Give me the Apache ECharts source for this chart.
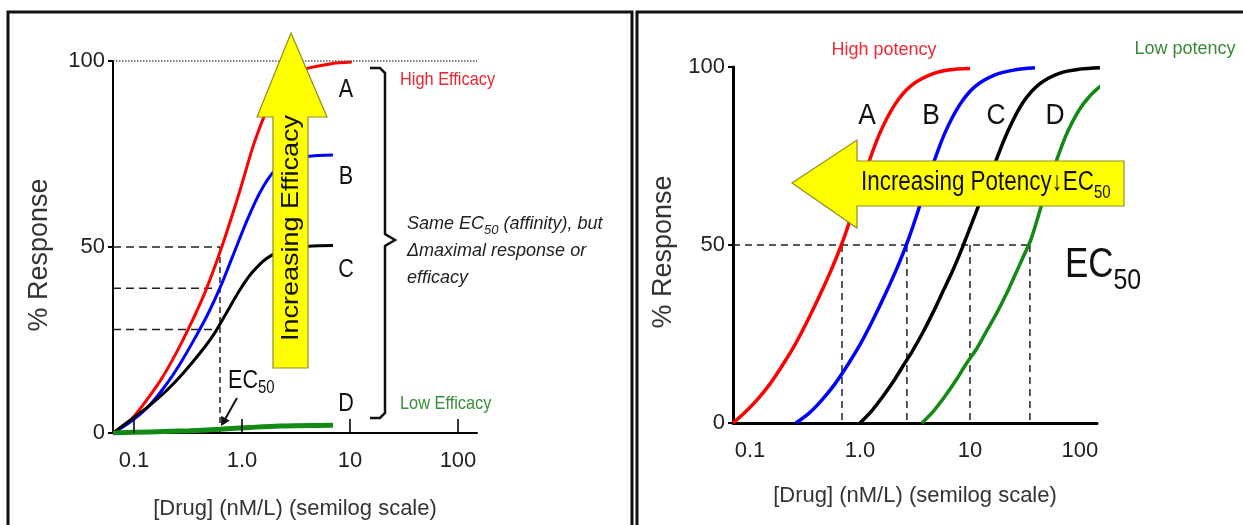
<!DOCTYPE html>
<html>
<head>
<meta charset="utf-8">
<script src="https://cdn.jsdelivr.net/npm/echarts@6/dist/echarts.min.js"></script>
<style>
html,body{margin:0;padding:0;background:#fff}
#main{width:1243px;height:525px}
</style>
</head>
<body>
<div id="main"></div>
<script>
const tickValues=[0.1,1,10,100];
const tickLabels=['0.1','1.0','10','100'];
const yTicks=[0,50,100];

// left panel: same EC50, different max response (conc nM/L vs % response)
const effA_x=[0.064,0.093,0.121,0.175,0.241,0.332,0.458,0.650,0.954,1.30,1.78,2.44,3.56,6.53,10.4];
const effA_y=[0,3.5,7.5,14,21,29,38,50,65,78,88,94,97.5,99.2,99.7];
const effB_x=[0.064,0.093,0.135,0.193,0.266,0.367,0.484,0.626,0.808,1.11,1.46,1.94,2.78,4.26,6.96];
const effB_y=[0,3,7,12.5,18.5,25.5,32,39,47,57,64.5,70,73.3,74.4,74.7];
const effC_x=[0.064,0.098,0.141,0.202,0.284,0.409,0.563,0.742,0.958,1.23,1.70,2.49,4.17,6.96];
const effC_y=[0,4,7.5,11.5,16,21.5,27,33,38.5,43,47,49.3,50.2,50.4];
const effD_x=[0.064,0.141,0.330,0.626,1.19,2.25,6.96];
const effD_y=[0,0.3,0.6,1,1.5,1.9,2.1];
const effEc50=0.626;
const effHalf=[50,38.9,27.8];
const effHalfEnd=[0.626,0.54,0.59];

// right panel: same max, shifted EC50
const potA_x=[0.0701,0.0901,0.1158,0.152,0.1954,0.2565,0.3367,0.4329,0.5564,0.6862,0.8637,1.134,1.52,2.081,2.848,4.329,6.579,10.0];
const potA_y=[0,3,6.5,11,16,22,29,36,43.5,50.5,59.5,71,81.5,89.5,94.5,97.8,99.2,99.6];
const potB_x=[0.2619,0.3511,0.4514,0.5926,0.7616,1.0,1.313,1.688,2.17,2.675,3.368,4.421,5.926,8.111,11.1,16.88,25.65,38.99];
const potB_y=[0,3,6.5,11,16,22,29,36,43.5,50.5,59.5,71,81.5,89.5,94.5,97.8,99.2,99.8];
const potC_x=[1.0,1.286,1.619,1.995,2.46,3.032,3.739,4.609,5.683,7.006,8.458,10.21,12.86,16.88,22.16,30.32,43.29,65.79,100,152];
const potC_y=[0,3.5,7.5,11.5,16,20.5,25.5,31,37,43,49,55.5,63.5,73,82,90,95.3,98.3,99.4,99.8];
const potD_x=[3.661,4.707,5.926,7.46,9.196,11.58,14.27,17.6,21.25,25.65,30.32,35.85,45.13,59.26,77.81,106.5,152,231,351.3,533.7];
const potD_y=[0,3.5,7.5,12,16.5,21,26,31,36,41.5,46.5,51.5,61.5,72.5,82,89.5,94.5,97.5,99.2,99.8];
const potEc50=[0.686,2.67,10.0,35.1];

const LMIN=0.064, LMAX=150, RMIN=0.070, RMAX=143;
const SANS='"Liberation Sans",Arial,sans-serif';
const NX=0.83; // narrow text squeeze

const pts=(xs,ys)=>xs.map((x,i)=>[x,ys[i]]);
const fmtTick=v=>{
    const i=tickValues.findIndex(t=>Math.abs(Math.log10(v)-Math.log10(t))<1e-6);
    return i<0?'':tickLabels[i];
};

function curve(xi,data,color,width,clip){
    return {type:'line',xAxisIndex:xi,yAxisIndex:xi,data:data,symbol:'none',smooth:0.3,
        clip:clip,silent:true,z:3,lineStyle:{color:color,width:width}};
}
function dash(xi,data,pattern){
    return {type:'line',xAxisIndex:xi,yAxisIndex:xi,data:data,symbol:'none',silent:true,z:2,
        lineStyle:{color:'#222',width:1.5,type:pattern}};
}

const series=[];
// left guides
effHalf.forEach((r,i)=>series.push(dash(0,[[LMIN,r],[effHalfEnd[i],r]],[8,5])));
series.push(dash(0,[[effEc50,50],[effEc50,0]],[6,4]));
const sA=curve(0,pts(effA_x,effA_y),'#ff0000',3,true);
sA.markLine={silent:true,symbol:'none',label:{show:false},
    lineStyle:{type:'dotted',color:'#555',width:1.5},data:[{yAxis:100}]};
series.push(sA);
series.push(curve(0,pts(effB_x,effB_y),'#0000ff',3,true));
series.push(curve(0,pts(effC_x,effC_y),'#000000',3,true));
series.push(curve(0,pts(effD_x,effD_y),'#138a13',5,true));
series.push({type:'scatter',xAxisIndex:0,yAxisIndex:0,data:tickValues.map(v=>[v,0]),
    symbol:'rect',symbolSize:[2,14],symbolOffset:[0,-7],silent:true,z:4,itemStyle:{color:'#000'}});
// right guides
series.push(dash(1,[[RMIN,50],[potEc50[3],50]],[7,5]));
potEc50.forEach(e=>series.push(dash(1,[[e,50],[e,0]],[7,5])));
series.push(curve(1,pts(potA_x,potA_y),'#ff0000',3.5,false));
series.push(curve(1,pts(potB_x,potB_y),'#0000ff',3.5,false));
series.push(curve(1,pts(potC_x,potC_y),'#000000',3.5,false));
series.push(curve(1,pts(potD_x,potD_y),'#138a13',3.5,false));

function xAxisOf(gi,min,max,lw,gap){
    return {type:'log',logBase:10,gridIndex:gi,min:min,max:max,
        name:'[Drug] (nM/L) (semilog scale)',nameLocation:'middle',nameGap:gap,
        nameTextStyle:{fontFamily:SANS,fontSize:22,color:'#333'},
        axisLine:{lineStyle:{color:'#000',width:lw}},axisTick:{show:false},splitLine:{show:false},
        axisLabel:{formatter:fmtTick,fontFamily:SANS,fontSize:22,color:'#222',margin:17}};
}
function yAxisOf(gi,lw){
    return {type:'value',gridIndex:gi,min:yTicks[0],max:yTicks[2],interval:50,
        axisLine:{show:true,lineStyle:{color:'#000',width:lw}},
        axisTick:{show:true,length:5,lineStyle:{color:'#000',width:2}},splitLine:{show:false},
        axisLabel:{fontFamily:SANS,fontSize:22,color:'#222',margin:8}};
}

function txt(x,y,text,size,color,extra,align){
    return Object.assign({type:'text',x:x,y:y,z:100,silent:true,
        style:{text:text,font:size+'px '+SANS,fill:color,align:align||'center',verticalAlign:'middle'}},extra||{});
}
function richTxt(x,y,text,rich,align,vAlign,sx){
    return {type:'text',x:x,y:y,z:100,silent:true,scaleX:sx||1,
        style:{text:text,rich:rich,align:align,verticalAlign:vAlign,fill:'#111'}};
}
const sub=(main,subSize,lh,extra)=>({
    m:Object.assign({fontFamily:SANS,fontSize:main,lineHeight:lh,fill:'#111'},extra||{}),
    b:{fontFamily:SANS,fontSize:main,lineHeight:lh,fontWeight:'bold',fill:'#111'},
    s:Object.assign({fontFamily:SANS,fontSize:subSize,lineHeight:subSize,verticalAlign:'bottom',fill:'#111'},extra||{})
});

const graphic=[
    {type:'rect',shape:{x:8,y:12,width:624,height:540},style:{fill:'none',stroke:'#111',lineWidth:3},z:50},
    {type:'rect',shape:{x:637,y:12,width:640,height:540},style:{fill:'none',stroke:'#111',lineWidth:3},z:50},
    // left yellow arrow
    {type:'polygon',z:90,shape:{points:[[291,33],[327,117],[308,117],[308,368],[273,368],[273,117],[257,117]]},
        style:{fill:'#ffff00',stroke:'#8f8f20',lineWidth:1.2}},
    txt(291,228,'Increasing Efficacy',27,'#111',{rotation:Math.PI/2,scaleY:0.9}),
    // right yellow arrow
    {type:'polygon',z:90,shape:{points:[[792,183],[857,140],[857,161],[1124,161],[1124,206],[857,206],[857,228]]},
        style:{fill:'#ffff00',stroke:'#8f8f20',lineWidth:1.2}},
    richTxt(861,183,'{m|Increasing Potency}{b|\u2193}{m|EC}{s|50}',sub(27,18,39),'left','middle',NX),
    // axis titles
    txt(40,255,'% Response',27,'#333',{rotation:Math.PI/2}),
    txt(664,252,'% Response',27,'#333',{rotation:Math.PI/2}),
    // left labels
    txt(346,90,'A',26,'#111',{scaleX:NX}),
    txt(346,177,'B',26,'#111',{scaleX:NX}),
    txt(346,270,'C',26,'#111',{scaleX:NX}),
    txt(346,404,'D',26,'#111',{scaleX:NX}),
    txt(400,80,'High Efficacy',19,'#e8262f',{scaleX:0.86},'left'),
    txt(400,404,'Low Efficacy',19,'#3a8f3a',{scaleX:0.86},'left'),
    {type:'polyline',z:90,shape:{points:[[370,68],[380,68],[385,73],[385,234],[395,240],[385,246],[385,413],[380,418],[370,418]]},
        style:{fill:'none',stroke:'#111',lineWidth:2.5}},
    richTxt(407,210,'{m|Same EC}{s|50}{m| (affinity), but}\n{m|\u0394maximal response or}\n{m|efficacy}',
        sub(18,13,27,{fontStyle:'italic',fill:'#222'}),'left','top'),
    richTxt(228,381,'{m|EC}{s|50}',sub(26,18,33),'left','middle',NX),
    {type:'line',z:90,shape:{x1:237,y1:398,x2:224,y2:421},style:{stroke:'#111',lineWidth:2}},
    {type:'polygon',z:90,shape:{points:[[221,426],[229.8,420.7],[221.2,415.7]]},style:{fill:'#111'}},
    // right labels
    txt(884,50,'High potency',18,'#ee2a34'),
    txt(1185,49,'Low potency',18,'#3a8a3a'),
    txt(867,116,'A',30,'#111',{scaleX:0.88}),
    txt(931,116,'B',30,'#111',{scaleX:0.88}),
    txt(996,116,'C',30,'#111',{scaleX:0.88}),
    txt(1055,116,'D',30,'#111',{scaleX:0.88}),
    richTxt(1065,265,'{m|EC}{s|50}',sub(42,30,62),'left','middle',NX)
];

const chart=echarts.init(document.getElementById('main'),null,{renderer:'canvas'});
chart.setOption({
    animation:false,
    backgroundColor:'#ffffff',
    grid:[
        {left:113,top:61,width:364,height:376},
        {left:733,top:67,width:364,height:356}
    ],
    xAxis:[xAxisOf(0,LMIN,LMAX,2,65),xAxisOf(1,RMIN,RMAX,3,62)],
    yAxis:[yAxisOf(0,2),yAxisOf(1,3)],
    series:series,
    graphic:graphic
});
</script>
</body>
</html>
